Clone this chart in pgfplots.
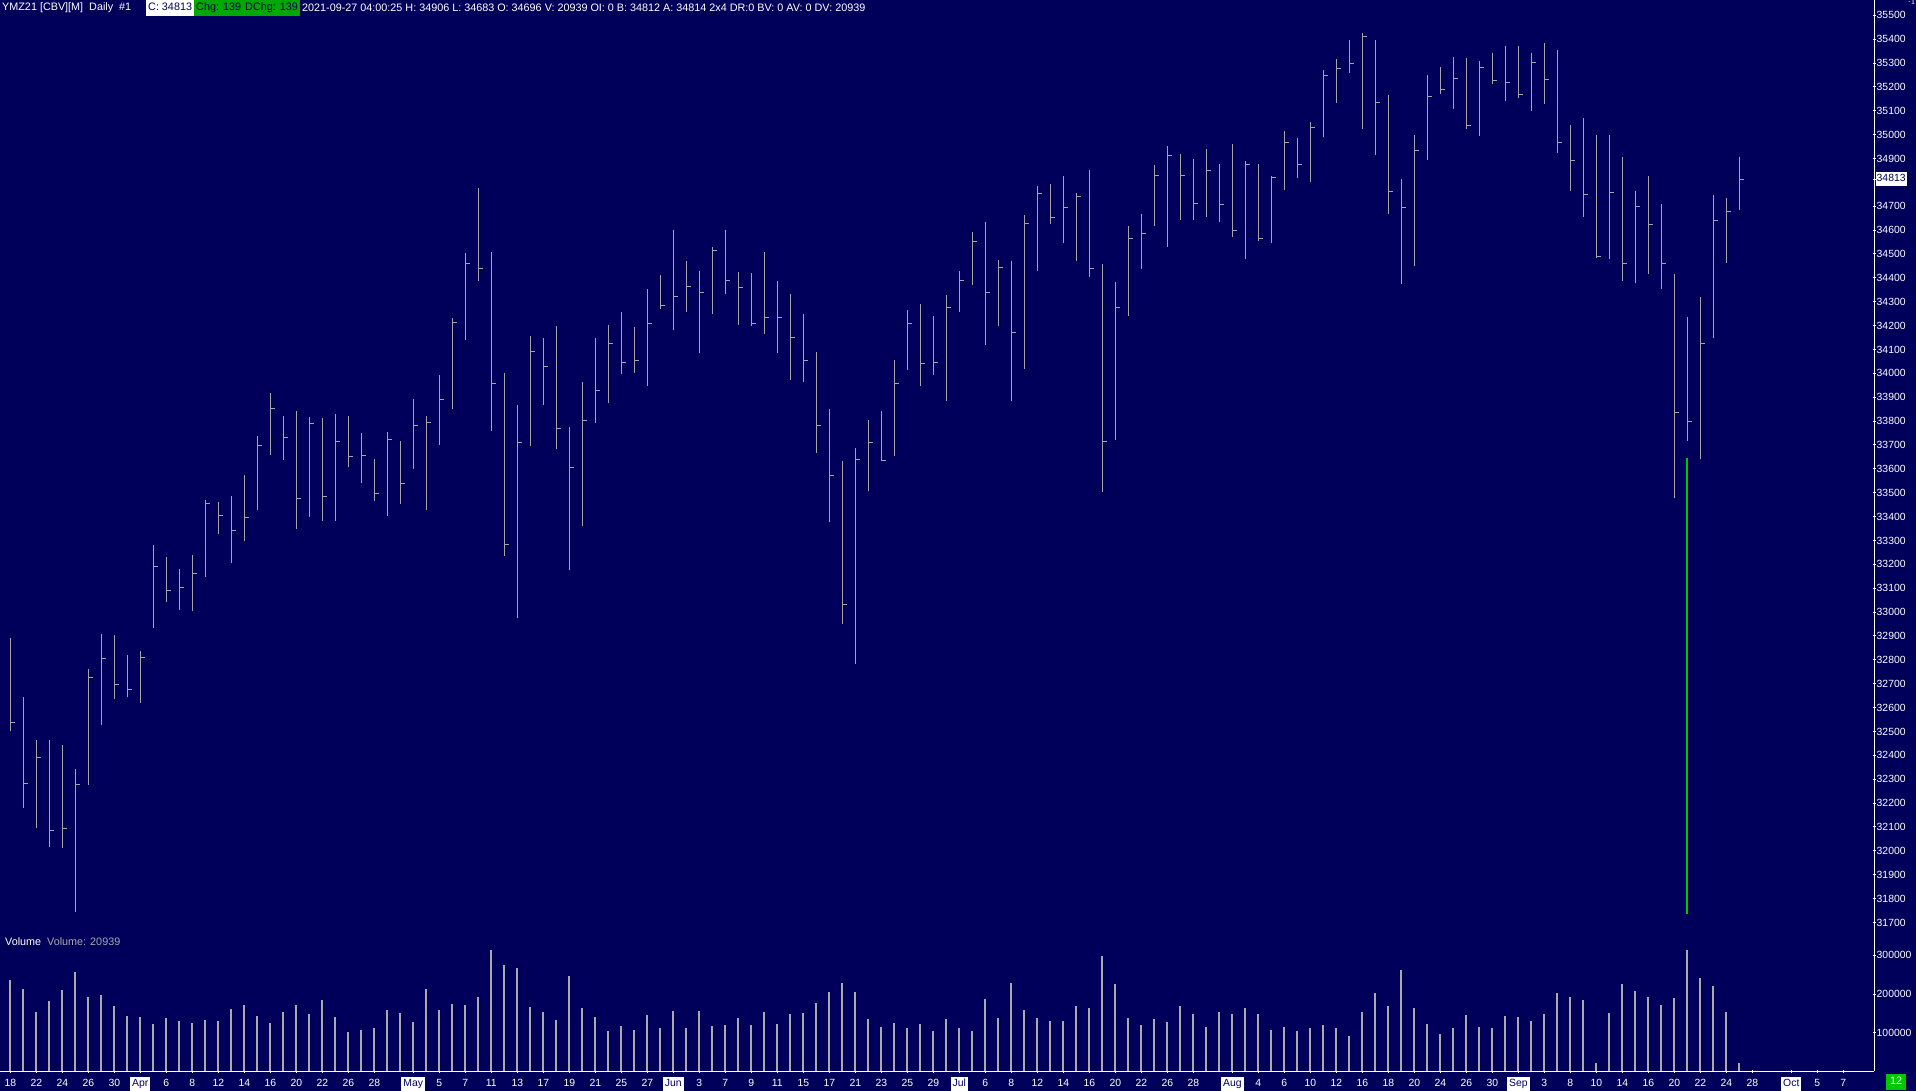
\documentclass[border=0pt]{standalone}
\usepackage{fontspec}
\setmainfont{Liberation Sans}
\usepackage{pgfplots}
\usepackage{pgfplotstable}
\pgfplotsset{compat=1.18}
\definecolor{bg}{RGB}{0,0,90}
\definecolor{barc}{RGB}{165,165,165}
\definecolor{volc}{RGB}{170,170,170}
\definecolor{grn}{RGB}{0,200,0}
\definecolor{hgrn}{RGB}{0,168,0}
\pgfdeclareplotmark{rtick}{\pgfpathmoveto{\pgfpointorigin}\pgfpathlineto{\pgfpoint{5pt}{0pt}}\pgfusepathqstroke}
\newcommand\mon[1]{{\setlength\fboxsep{2pt}\colorbox{white}{\textcolor{bg}{\strut #1}}}}
\newcommand\lbox[1]{{\setlength\fboxsep{1pt}\colorbox{white}{\textcolor{bg}{\strut #1}}}}
\newcommand\fs{\fontsize{10.8}{12}\selectfont}
\newcommand\ft{\fontsize{10.4}{12}\selectfont}
\pgfplotstableread{
i h l c v
0 32893 32500 32539 236200
1 32645 32178 32280 212900
2 32466 32094 32392 154400
3 32466 32014 32084 181900
4 32444 32010 32095 210300
5 32344 31745 32276 256900
6 32763 32275 32727 192300
7 32909 32525 32807 197400
8 32904 32638 32698 169000
9 32821 32643 32674 143200
10 32838 32621 32811 140600
11 33282 32935 33189 122500
12 33231 33044 33092 138000
13 33182 33010 33104 130300
14 33240 33006 33163 125100
15 33470 33149 33456 132800
16 33462 33329 33405 130300
17 33487 33207 33343 161300
18 33575 33296 33397 171600
19 33738 33429 33698 143200
20 33918 33656 33854 125100
21 33821 33639 33732 153500
22 33843 33350 33477 171600
23 33816 33400 33791 148300
24 33812 33383 33485 184500
25 33830 33383 33715 140600
26 33822 33609 33653 101800
27 33750 33542 33657 107000
28 33642 33467 33498 112200
29 33755 33404 33724 158700
30 33717 33453 33540 150900
31 33893 33601 33783 127700
32 33822 33428 33795 212900
33 33993 33702 33892 158700
34 34232 33852 34214 174200
35 34504 34141 34461 171600
36 34777 34388 34440 192300
37 34509 33760 33958 313700
38 34002 33237 33284 275000
39 33868 32977 33711 267200
40 34157 33697 34092 166400
41 34148 33869 34030 153500
42 34199 33685 33770 132800
43 33776 33178 33607 246500
44 33964 33362 33804 163800
45 34148 33794 33929 140600
46 34203 33877 34126 104400
47 34257 33999 34046 117300
48 34194 34003 34055 107000
49 34354 33949 34210 145800
50 34412 34271 34285 112200
51 34601 34183 34323 156100
52 34471 34259 34365 112200
53 34429 34087 34340 156100
54 34529 34250 34515 117300
55 34601 34334 34390 119900
56 34425 34204 34360 138000
57 34421 34200 34210 119900
58 34508 34166 34235 153500
59 34387 34087 34235 122500
60 34333 33974 34151 148300
61 34249 33965 34055 150900
62 34090 33668 33782 176800
63 33851 33379 33573 205200
64 33633 32952 33033 228400
65 33688 32784 33640 205200
66 33805 33509 33711 135400
67 33843 33636 33636 114700
68 34056 33655 33958 125100
69 34266 34016 34210 112200
70 34291 33949 34042 122500
71 34240 33995 34046 104400
72 34328 33886 34277 135400
73 34429 34259 34390 112000
74 34592 34372 34553 104400
75 34634 34120 34340 187100
76 34475 34200 34444 138000
77 34471 33886 34172 228400
78 34664 34020 34629 158700
79 34785 34430 34754 138000
80 34793 34627 34654 130300
81 34827 34548 34696 130300
82 34756 34472 34742 169000
83 34852 34405 34440 163800
84 34458 33505 33715 298200
85 34383 33722 34277 225900
86 34617 34242 34566 138000
87 34668 34439 34587 119900
88 34873 34619 34830 135400
89 34952 34531 34913 127700
90 34919 34644 34830 169000
91 34898 34644 34712 148300
92 34940 34657 34851 114700
93 34877 34636 34708 153500
94 34961 34573 34599 148300
95 34890 34481 34876 163800
96 34877 34556 34566 148300
97 34826 34548 34821 107000
98 35015 34766 34968 114700
99 34986 34820 34876 104400
100 35053 34803 35031 112200
101 35271 34988 35249 119900
102 35317 35134 35278 112200
103 35397 35260 35299 91500
104 35425 35025 35412 153500
105 35397 34916 35136 202600
106 35166 34669 34763 169000
107 34814 34376 34696 262000
108 34999 34451 34934 163800
109 35250 34895 35161 122500
110 35283 35172 35190 96700
111 35325 35109 35236 112200
112 35321 35025 35039 145800
113 35309 34996 35282 114700
114 35342 35210 35228 112200
115 35371 35140 35220 143200
116 35371 35152 35169 140600
117 35342 35099 35303 130300
118 35383 35128 35232 148300
119 35354 34921 34967 202600
120 35040 34763 34890 192300
121 35069 34656 34749 184500
122 34999 34484 34491 21700
123 34999 34481 34756 150900
124 34907 34386 34462 225900
125 34763 34379 34700 207800
126 34826 34416 34625 192300
127 34710 34352 34462 171600
128 34416 33477 33837 189700
129 34236 33716 33798 313700
130 34321 33640 34126 241400
131 34749 34148 34642 220700
132 34734 34462 34676 153500
133 34906 34683 34813 20939
}\data
\begin{document}
\fs
\begin{tikzpicture}
\useasboundingbox (0pt,0pt) rectangle (1916pt,1091pt);
\fill[bg] (0pt,0pt) rectangle (1916pt,1091pt);
\pgfplotsset{every tick label/.append style={font=\ft, white},
  tick align=outside, major tick length=3pt,
  every tick/.style={white, line width=1pt}}
% price panel
\begin{axis}[at={(0pt,159pt)}, anchor=south west, scale only axis,
  width=1874pt, height=932pt,
  xmin=-0.792, xmax=143.36, ymin=31660, ymax=35564,
  axis x line=none, axis y line=right,
  axis line style={-, white, line width=1pt},
  ytick={31700,31800,31900,32000,32100,32200,32300,32400,32500,32600,32700,32800,32900,33000,33100,33200,33300,33400,33500,33600,33700,33800,33900,34000,34100,34200,34300,34400,34500,34600,34700,34900,35000,35100,35200,35300,35400,35500},
  yticklabels={31700,31800,31900,32000,32100,32200,32300,32400,32500,32600,32700,32800,32900,33000,33100,33200,33300,33400,33500,33600,33700,33800,33900,34000,34100,34200,34300,34400,34500,34600,34700,34900,35000,35100,35200,35300,35400,35500},
  yticklabel style={anchor=west, inner sep=1pt},
  extra y ticks={34813}, extra y tick labels={\lbox{34813}},
  extra y tick style={yticklabel style={anchor=west, inner sep=0pt}},
  ]
\addplot[draw=none, mark=none, forget plot,
  error bars/.cd, y dir=plus, y explicit, error mark=none,
  error bar style={draw=barc, line width=1pt}]
  table[x=i, y=l, y error expr=\thisrow{h}-\thisrow{l}]{\data};
\addplot[only marks, mark=rtick, mark options={draw=barc, line width=1pt}]
  table[x=i, y=c]{\data};
\addplot[grn, line width=2.2pt] coordinates {(129,33645) (129,31737)};
\end{axis}
% volume panel
\begin{axis}[at={(0pt,19.5pt)}, anchor=south west, scale only axis,
  width=1874pt, height=139.5pt,
  xmin=-0.792, xmax=143.36, ymin=0, ymax=360465,
  axis x line=bottom, axis y line=right,
  axis line style={-, white, line width=1pt},
  scaled y ticks=false,
  ytick={100000,200000,300000}, yticklabels={100000,200000,300000},
  yticklabel style={anchor=west, inner sep=1pt},
  xtick={0,2,4,6,8,10,12,14,16,18,20,22,24,26,28,31,33,35,37,39,41,43,45,47,49,51,53,55,57,59,61,63,65,67,69,71,73,75,77,79,81,83,85,87,89,91,94,96,98,100,102,104,106,108,110,112,114,116,118,120,122,124,126,128,130,132,134,137,139,141},
  xticklabels={18,22,24,26,30,\mon{Apr},6,8,12,14,16,20,22,26,28,\mon{May},5,7,11,13,17,19,21,25,27,\mon{Jun},3,7,9,11,15,17,21,23,25,29,\mon{Jul},6,8,12,14,16,20,22,26,28,\mon{Aug},4,6,10,12,16,18,20,24,26,30,\mon{Sep},3,8,10,14,16,20,22,24,28,\mon{Oct},5,7},
  xticklabel style={anchor=base, yshift=-14pt, inner sep=0pt},
  ]
\addplot[ycomb, volc, line width=2pt] table[x=i, y=v]{\data};
\end{axis}
% header
\node[anchor=west, text=white, inner sep=0pt] at (2pt,1083pt) {\fs YMZ21 [CBV][M]\ \ Daily\ \ \#1};
\node[anchor=west, inner sep=0pt] at (146pt,1083pt) {\fs\setlength\fboxsep{2pt}\colorbox{white}{\textcolor{bg}{\strut C: 34813}}};
\node[anchor=west, inner sep=0pt] at (194pt,1083pt) {\fs\setlength\fboxsep{2pt}\colorbox{hgrn}{\textcolor{bg}{\strut Chg: 139}}};
\node[anchor=west, inner sep=0pt] at (243pt,1083pt) {\fs\setlength\fboxsep{2pt}\colorbox{hgrn}{\textcolor{bg}{\strut DChg: 139}}};
\node[anchor=west, text=white, inner sep=0pt] at (302pt,1083pt) {\fs 2021-09-27 04:00:25 H: 34906 L: 34683 O: 34696 V: 20939 OI: 0 B: 34812 A: 34814 2x4 DR:0 BV: 0 AV: 0 DV: 20939};
\node[anchor=west, inner sep=0pt] at (5pt,149pt) {\fs\textcolor{white}{Volume}\ \ \textcolor{volc}{Volume: 20939}};
\node[anchor=center, inner sep=0pt] at (1896pt,9pt) {\fs\setlength\fboxsep{2pt}\colorbox{grn}{\textcolor{white}{\strut\,12\,}}};
\end{tikzpicture}
\end{document}
